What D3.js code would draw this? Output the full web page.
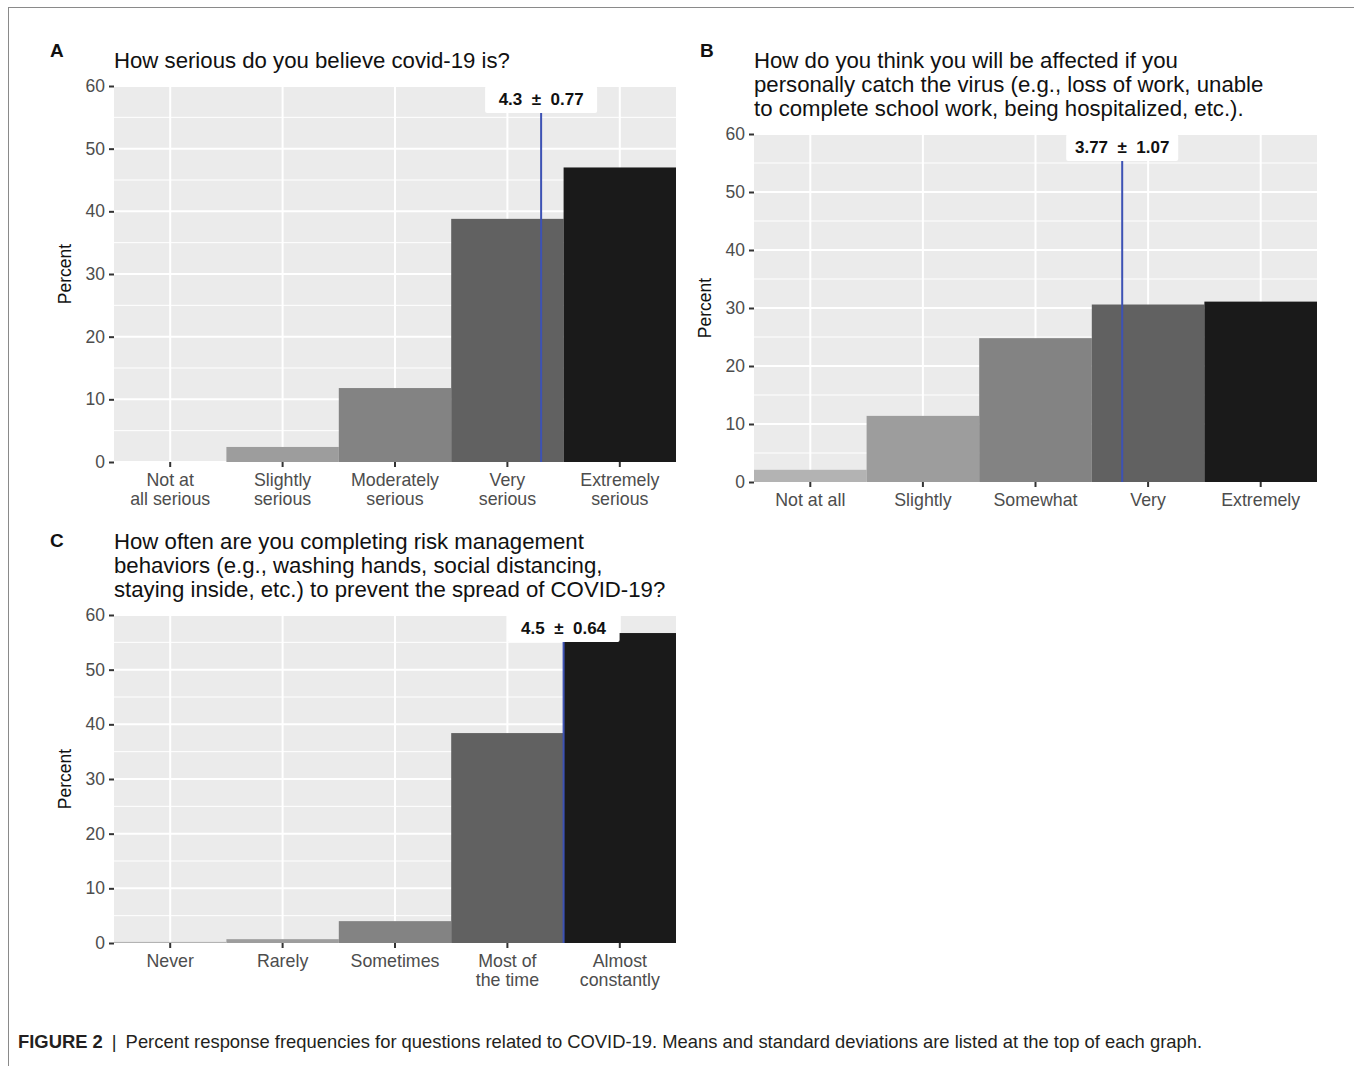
<!DOCTYPE html>
<html>
<head>
<meta charset="utf-8">
<script src="https://cdn.jsdelivr.net/npm/d3@7"></script>
<style>
  body { margin: 0; background: #fff; }
  svg { display: block; font-family: "Liberation Sans", Arial, sans-serif; }
</style>
</head>
<body>
<div id="chart"></div>
<script>
// --- data ---
const yTicks = [0, 10, 20, 30, 40, 50, 60];
const yMinor = [5, 15, 25, 35, 45, 55];

const titleA = ["How serious do you believe covid-19 is?"];
const catsA = [["Not at", "all serious"], ["Slightly", "serious"], ["Moderately", "serious"], ["Very", "serious"], ["Extremely", "serious"]];
const valsA = [0, 2.4, 11.8, 38.8, 47.0];
const statA = [4.3, 0.77];

const titleB = ["How do you think you will be affected if you",
                "personally catch the virus (e.g., loss of work, unable",
                "to complete school work, being hospitalized, etc.)."];
const catsB = [["Not at all"], ["Slightly"], ["Somewhat"], ["Very"], ["Extremely"]];
const valsB = [2.1, 11.4, 24.8, 30.6, 31.1];
const statB = [3.77, 1.07];

const titleC = ["How often are you completing risk management",
                "behaviors (e.g., washing hands, social distancing,",
                "staying inside, etc.) to prevent the spread of COVID-19?"];
const catsC = [["Never"], ["Rarely"], ["Sometimes"], ["Most of", "the time"], ["Almost", "constantly"]];
const valsC = [0.2, 0.7, 4.0, 38.4, 56.7];
const statC = [4.5, 0.64];

// grey fill per response level (light -> dark)
const greys = ["#b3b3b3", "#9d9d9d", "#838383", "#616161", "#1a1a1a"];

const W = 1354, H = 1066;
const svg = d3.select("#chart").append("svg")
    .attr("width", W)
    .attr("height", H);

// figure frame
svg.append("line").attr("x1", 8).attr("x2", W).attr("y1", 7.5).attr("y2", 7.5)
    .attr("stroke", "#8a8a8a").attr("stroke-width", 1);
svg.append("line").attr("x1", 8.5).attr("x2", 8.5).attr("y1", 7).attr("y2", H)
    .attr("stroke", "#8a8a8a").attr("stroke-width", 1);

function drawPanel(opt) {
    const g = svg.append("g");
    const { x0, x1, y0, y1 } = opt;

    const x = d3.scaleBand().domain(d3.range(opt.cats.length)).range([x0, x1]).padding(0);
    const xm = d3.scaleLinear().domain([0.5, opt.cats.length + 0.5]).range([x0, x1]);
    const y = d3.scaleLinear().domain([0, 60]).range([y1, y0]);

    // panel background
    g.append("rect")
        .attr("x", x0).attr("y", y0)
        .attr("width", x1 - x0).attr("height", y1 - y0)
        .attr("fill", "#ebebeb");

    // grid
    g.selectAll(".minor").data(yMinor).enter().append("line")
        .attr("x1", x0).attr("x2", x1)
        .attr("y1", d => y(d)).attr("y2", d => y(d))
        .attr("stroke", "#fff").attr("stroke-width", 1);
    g.selectAll(".major").data(yTicks).enter().append("line")
        .attr("x1", x0).attr("x2", x1)
        .attr("y1", d => y(d)).attr("y2", d => y(d))
        .attr("stroke", "#fff").attr("stroke-width", 2);
    g.selectAll(".vmajor").data(d3.range(opt.cats.length)).enter().append("line")
        .attr("x1", d => x(d) + x.bandwidth() / 2).attr("x2", d => x(d) + x.bandwidth() / 2)
        .attr("y1", y0).attr("y2", y1)
        .attr("stroke", "#fff").attr("stroke-width", 2);

    // bars
    g.selectAll(".bar").data(opt.vals).enter().append("rect")
        .attr("x", (d, i) => x(i))
        .attr("width", x.bandwidth())
        .attr("y", d => y(d))
        .attr("height", d => y(0) - y(d))
        .attr("fill", (d, i) => greys[i]);

    // mean line
    const mx = xm(opt.stat[0]);
    g.append("line")
        .attr("x1", mx).attr("x2", mx)
        .attr("y1", y(0)).attr("y2", y(60))
        .attr("stroke", "#3d52b4").attr("stroke-width", 2);

    // mean +/- sd label
    const lab = g.append("g");
    lab.append("rect")
        .attr("x", mx - 56).attr("y", y(60))
        .attr("width", 112).attr("height", 27)
        .attr("rx", 2)
        .attr("fill", "#fff");
    lab.append("text")
        .attr("x", mx).attr("y", y(60) + 19)
        .attr("text-anchor", "middle")
        .attr("font-weight", "bold")
        .attr("font-size", 17)
        .attr("fill", "#111")
        .style("white-space", "pre")
        .text(opt.stat[0] + "  \u00b1  " + opt.stat[1]);

    // y axis
    const ya = g.append("g")
        .attr("transform", `translate(${x0},0)`)
        .call(d3.axisLeft(y).tickValues(yTicks).tickSize(5).tickPadding(4));
    ya.select(".domain").remove();
    ya.selectAll(".tick line").attr("stroke", "#333").attr("stroke-width", 2);
    ya.selectAll(".tick text")
        .attr("fill", "#4d4d4d")
        .attr("font-size", 17.5)
        .attr("font-family", "Liberation Sans, Arial, sans-serif");

    // x axis
    const xa = g.append("g")
        .attr("transform", `translate(0,${y1})`)
        .call(d3.axisBottom(x).tickSize(5).tickFormat(""));
    xa.select(".domain").remove();
    xa.selectAll(".tick line").attr("stroke", "#333").attr("stroke-width", 2);

    opt.cats.forEach((lines, i) => {
        const t = g.append("text")
            .attr("x", x(i) + x.bandwidth() / 2)
            .attr("y", y1 + 24)
            .attr("text-anchor", "middle")
            .attr("font-size", 17.8)
            .attr("fill", "#4d4d4d");
        lines.forEach((s, k) => {
            t.append("tspan")
                .attr("x", x(i) + x.bandwidth() / 2)
                .attr("dy", k === 0 ? 0 : 19)
                .text(s);
        });
    });

    // y title
    g.append("text")
        .attr("transform", `translate(${x0 - 43},${(y0 + y1) / 2}) rotate(-90)`)
        .attr("text-anchor", "middle")
        .attr("font-size", 17.5)
        .attr("fill", "#111")
        .text("Percent");

    // title
    opt.title.forEach((s, k) => {
        g.append("text")
            .attr("x", x0)
            .attr("y", opt.titleY + k * 24)
            .attr("font-size", 22.2)
            .attr("fill", "#111")
            .text(s);
    });

    // panel letter
    g.append("text")
        .attr("x", opt.letterX)
        .attr("y", opt.letterY)
        .attr("font-size", 19)
        .attr("font-weight", "bold")
        .attr("fill", "#111")
        .text(opt.letter);
}

drawPanel({ x0: 114, x1: 676, y0: 86, y1: 462, cats: catsA, vals: valsA, stat: statA,
            title: titleA, titleY: 68, letter: "A", letterX: 50, letterY: 57 });
drawPanel({ x0: 754, x1: 1317, y0: 134, y1: 482, cats: catsB, vals: valsB, stat: statB,
            title: titleB, titleY: 68, letter: "B", letterX: 700, letterY: 57 });
drawPanel({ x0: 114, x1: 676, y0: 615, y1: 943, cats: catsC, vals: valsC, stat: statC,
            title: titleC, titleY: 549, letter: "C", letterX: 50, letterY: 547 });

// caption
const cap = svg.append("text")
    .attr("x", 18)
    .attr("y", 1048)
    .attr("font-size", 18.4)
    .attr("fill", "#231f20");
cap.append("tspan").attr("font-weight", "bold").text("FIGURE 2");
cap.append("tspan").attr("dx", 9).text("|");
cap.append("tspan").attr("dx", 9)
    .text("Percent response frequencies for questions related to COVID-19. Means and standard deviations are listed at the top of each graph.");
</script>
</body>
</html>
